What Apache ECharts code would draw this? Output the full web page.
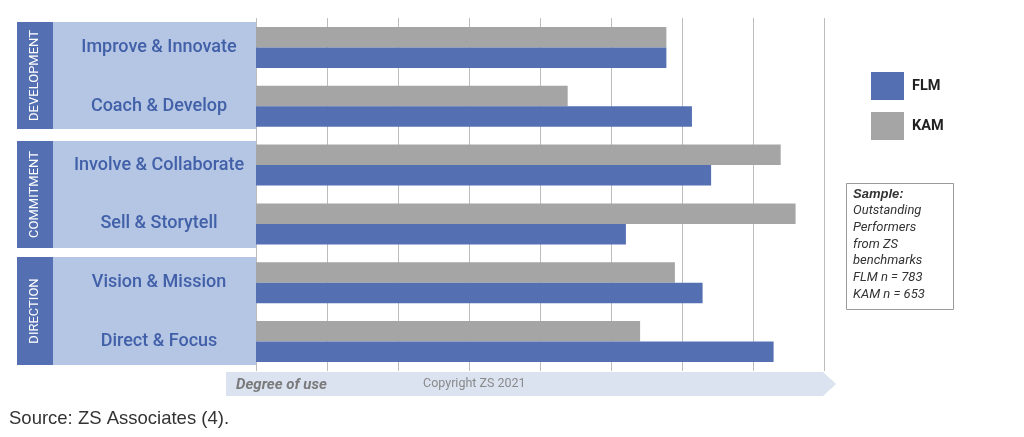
<!DOCTYPE html>
<html>
<head>
<meta charset="utf-8">
<script src="https://cdn.jsdelivr.net/npm/echarts@6/dist/echarts.min.js"></script>
<style>
  html, body { margin: 0; padding: 0; background: #fff; }
  #chart { width: 1024px; height: 437px; }
</style>
</head>
<body>
<div id="chart"></div>
<script>
// data
var categories = ['Improve & Innovate', 'Coach & Develop', 'Involve & Collaborate',
                  'Sell & Storytell', 'Vision & Mission', 'Direct & Focus'];
var flmValues = [5.78, 6.14, 6.41, 5.21, 6.29, 7.29];
var kamValues = [5.78, 4.39, 7.39, 7.60, 5.90, 5.41];
var groupNames = ['DEVELOPMENT', 'COMMITMENT', 'DIRECTION'];
var sampleLines = ['Outstanding', 'Performers', 'from ZS', 'benchmarks', 'FLM n = 783', 'KAM n = 653'];

var BLUE = '#5470b3';
var GREY = '#a5a5a5';
var LABEL = '#4160a8';

// panel boxes behind the category labels (y ranges in px)
var groupBoxes = [[22, 129], [141, 248], [257, 365]];

var graphics = [];
groupBoxes.forEach(function (b, i) {
    graphics.push({
        type: 'rect', z: -1,
        shape: { x: 53, y: b[0], width: 203, height: b[1] - b[0] },
        style: { fill: '#b5c6e5' }
    });
    graphics.push({
        type: 'rect', z: -1,
        shape: { x: 17, y: b[0], width: 36, height: b[1] - b[0] },
        style: { fill: BLUE }
    });
    graphics.push({
        type: 'text',
        x: 35, y: (b[0] + b[1]) / 2,
        rotation: Math.PI / 2,
        style: {
            text: groupNames[i], fill: '#fff', fontSize: 13,
            fontFamily: 'Roboto', align: 'center', verticalAlign: 'middle'
        }
    });
});

// "Degree of use" arrow under the axis
graphics.push({
    type: 'polygon',
    shape: { points: [[226, 372], [823, 372], [836, 384], [823, 396], [226, 396]] },
    style: { fill: '#dbe2f0' }
});
graphics.push({
    type: 'text', x: 236, y: 385,
    style: { text: 'Degree of use', fill: '#7a7a7a', fontSize: 15, fontStyle: 'italic',
             fontWeight: 'bold', fontFamily: 'Roboto', verticalAlign: 'middle' }
});
graphics.push({
    type: 'text', x: 423, y: 384,
    style: { text: 'Copyright ZS 2021', fill: '#8a8a8a', fontSize: 12.5,
             fontFamily: 'Roboto', verticalAlign: 'middle' }
});

// sample box
graphics.push({
    type: 'rect',
    shape: { x: 846.5, y: 183.5, width: 107, height: 126 },
    style: { fill: '#fff', stroke: '#9a9a9a', lineWidth: 1 }
});
graphics.push({
    type: 'text', x: 853, y: 186,
    style: {
        text: '{b|Sample:}\n' + sampleLines.join('\n'),
        fill: '#333', fontSize: 13, fontStyle: 'italic', fontFamily: 'Roboto',
        lineHeight: 16.7,
        rich: { b: { fontWeight: 'bold', fontStyle: 'italic', fontSize: 13, fill: '#333', lineHeight: 16.7 } }
    }
});

// source line
graphics.push({
    type: 'text', x: 9, y: 419,
    style: { text: 'Source: ZS Associates (4).', fill: '#333', fontSize: 18.5,
             fontFamily: 'Liberation Sans', verticalAlign: 'middle' }
});

var myChart = echarts.init(document.getElementById('chart'));
myChart.setOption({
    animation: false,
    grid: { left: 256, right: 200, top: 18, bottom: 66, containLabel: false },
    legend: {
        orient: 'vertical', left: 871, top: 72, padding: 0,
        data: ['FLM', 'KAM'], icon: 'rect',
        itemWidth: 33, itemHeight: 28, itemGap: 12,
        textStyle: { fontSize: 14.5, fontWeight: 'bold', color: '#222', fontFamily: 'Roboto', padding: [0, 0, 0, 3] }
    },
    xAxis: {
        type: 'value', min: 0, max: 8, interval: 1,
        axisLabel: { show: false }, axisLine: { show: false }, axisTick: { show: false },
        splitLine: { lineStyle: { color: '#bdbdbd', width: 1 } }
    },
    yAxis: {
        type: 'category', data: categories, inverse: true,
        axisLine: { show: false }, axisTick: { show: false },
        axisLabel: {
            align: 'center', margin: 97,
            color: LABEL, fontSize: 18, fontWeight: 500, fontFamily: 'Roboto'
        }
    },
    graphic: graphics,
    series: [
        { name: 'KAM', type: 'bar', data: kamValues, barWidth: 20.5, barGap: '0%',
          itemStyle: { color: GREY } },
        { name: 'FLM', type: 'bar', data: flmValues, barWidth: 20.5, barGap: '0%',
          itemStyle: { color: BLUE } }
    ]
});
</script>
</body>
</html>
